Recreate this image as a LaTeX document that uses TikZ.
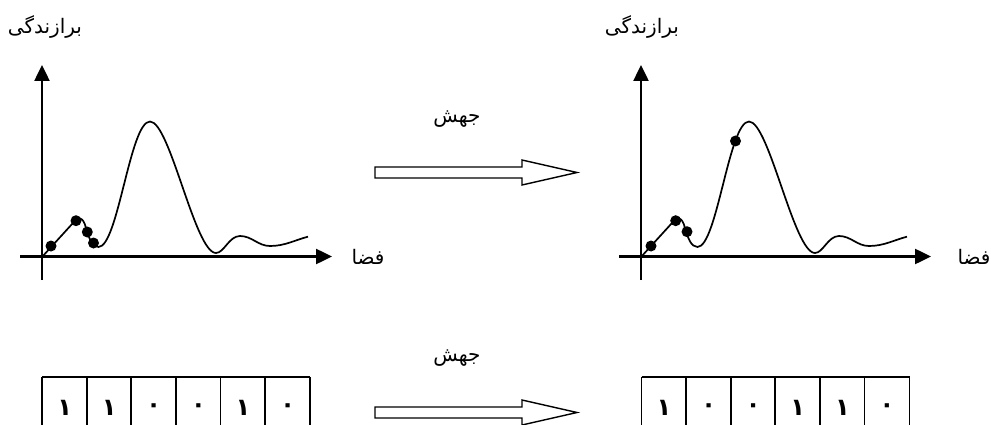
\documentclass[tikz,border=0pt]{standalone}
\usepackage{fontspec}
\newfontfamily\arabicfont[Script=Arabic]{DejaVu Sans}
\TeXXeTstate=1
\usetikzlibrary{arrows.meta}
\begin{document}
\begin{tikzpicture}[x=1pt,y=-1pt,
  axisline/.style={line width=2.5pt,-{Triangle[width=15pt,length=16pt]}},
  curveline/.style={line width=1.7pt,line join=round},
  dotnode/.style={circle,fill=black,inner sep=0pt,minimum size=11pt},
  lbl/.style={font=\arabicfont\fontsize{20}{22}\selectfont,inner sep=0pt},
  hollow/.style={draw,line width=1.4pt,fill=white,line join=miter},
  cell/.style={inner sep=0pt,minimum width=44.6pt,minimum height=48pt},
  gridline/.style={line width=1.8pt},
  digit/.style={font=\arabicfont\bfseries\fontsize{24}{26}\selectfont,inner sep=0pt}
]
\useasboundingbox (0,0) rectangle (991,425);
\def\fitness{(42,257) -- (73,223) .. controls (78,216.5) and (83,216) .. (86,228)
  .. controls (89,238) and (92,247) .. (98.5,247)
  .. controls (118,247) and (130,121.5) .. (150,121.5)
  .. controls (170,121.5) and (195,253) .. (216,253)
  .. controls (224,253) and (229,236) .. (240,236)
  .. controls (252,236) and (258,246) .. (270,246)
  .. controls (285,246) and (295,240) .. (308,236.7)}

% ---------- left chart ----------
\coordinate (yb1) at (42,280);
\coordinate (yt1) at (42,65);
\coordinate (xl1) at (20,256.5);
\coordinate (xr1) at (332,256.5);
\draw[axisline] (yb1) -- (yt1);
\draw[axisline] (xl1) -- (xr1);
\draw[curveline] \fitness;
\node[dotnode] (a1) at (51,246) {};
\node[dotnode] (a2) at (76,220.7) {};
\node[dotnode] (a3) at (87.3,232) {};
\node[dotnode] (a4) at (93.5,243) {};
\node[lbl] (fit1) at (45,27) {\beginR برازندگی\endR};
\node[lbl] (sp1) at (368,257) {\beginR فضا\endR};

% ---------- right chart ----------
\begin{scope}[xshift=599pt]
\coordinate (yb2) at (42,280);
\coordinate (yt2) at (42,65);
\coordinate (xl2) at (20,256.5);
\coordinate (xr2) at (332,256.5);
\draw[axisline] (yb2) -- (yt2);
\draw[axisline] (xl2) -- (xr2);
\draw[curveline] \fitness;
\node[dotnode] (b1) at (52,246) {};
\node[dotnode] (b2) at (76.7,220.7) {};
\node[dotnode] (b3) at (88,231.7) {};
\node[dotnode] (b4) at (136.5,141) {};
\end{scope}
\node[lbl] (fit2) at (642,27) {\beginR برازندگی\endR};
\node[lbl] (sp2) at (974,257) {\beginR فضا\endR};

% ---------- mutation arrows ----------
\node[lbl] (m1) at (457,119) {\beginR جهش\endR};
\draw[hollow] (375,167) -- (522,167) -- (522,160) -- (577,172.5) -- (522,185) -- (522,178) -- (375,178) -- cycle;
\node[lbl] (m2) at (457,358) {\beginR جهش\endR};
\draw[hollow] (375,407) -- (522,407) -- (522,400) -- (577,412.5) -- (522,425) -- (522,418) -- (375,418) -- cycle;

% ---------- chromosomes ----------
\foreach \i/\d in {0/١,1/١,2/٠,3/٠,4/١,5/٠}{
  \node[cell] (c\i) at (42.3+44.6*\i+22.3,401) {};
  \node[digit] (cd\i) at (c\i.center) [yshift=-7pt] {\d};
}
\foreach \i/\d in {0/١,1/٠,2/٠,3/١,4/١,5/٠}{
  \node[cell] (r\i) at (641.7+44.6*\i+22.3,401) {};
  \node[digit] (rd\i) at (r\i.center) [yshift=-7pt] {\d};
}
\draw[gridline] (c0.north west) -- (c5.north east);
\draw[gridline] (r0.north west) -- (r5.north east);
\foreach \i in {0,...,5}{
  \draw[gridline] (c\i.north west) -- (c\i.south west);
  \draw[gridline] (r\i.north west) -- (r\i.south west);
}
\draw[gridline] (c5.north east) -- (c5.south east);
\draw[gridline] (r5.north east) -- (r5.south east);
\end{tikzpicture}
\end{document}
